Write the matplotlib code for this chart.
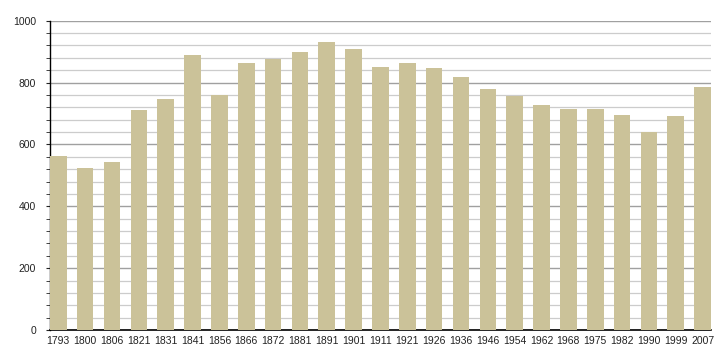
import matplotlib.pyplot as plt
from matplotlib.ticker import MultipleLocator

# population by census year
years = ["1793", "1800", "1806", "1821", "1831", "1841", "1856", "1866", "1872",
         "1881", "1891", "1901", "1911", "1921", "1926", "1936", "1946", "1954",
         "1962", "1968", "1975", "1982", "1990", "1999", "2007"]
population = [563, 524, 543, 711, 747, 889, 759, 863, 877,
              899, 931, 908, 850, 863, 847, 818, 778, 757,
              727, 714, 714, 695, 640, 692, 786]

plt.rcParams['font.family'] = ['Liberation Sans', 'DejaVu Sans']

fig = plt.figure(figsize=(7.2, 3.6), dpi=100)
ax = fig.add_axes([0.0694, 0.0833, 0.918, 0.8592])

x = list(range(len(years)))
bar_w = 0.62
ax.bar(x, population, width=bar_w, color="#cbc299", zorder=3)

ax.set_xlim(-bar_w / 2, len(years) - 1 + bar_w / 2)
ax.set_ylim(0, 1000)
ax.set_xticks(x)
ax.set_xticklabels(years)

ax.yaxis.set_major_locator(MultipleLocator(200))
ax.yaxis.set_minor_locator(MultipleLocator(40))
ax.grid(axis="y", which="major", color="#a0a0a0", linewidth=1.0, zorder=0)
ax.grid(axis="y", which="minor", color="#cccccc", linewidth=0.9, zorder=0)

for side in ["top", "right"]:
    ax.spines[side].set_visible(False)
ax.spines["left"].set_linewidth(1.0)
ax.spines["bottom"].set_linewidth(1.2)

ax.tick_params(axis="x", length=0, pad=4, labelsize=7.5, colors="#222222")
ax.tick_params(axis="y", which="major", length=3, pad=7, labelsize=7.5, colors="#222222")
ax.tick_params(axis="y", which="minor", length=3, color="#222222")

fig.savefig("out.png", dpi=100)
